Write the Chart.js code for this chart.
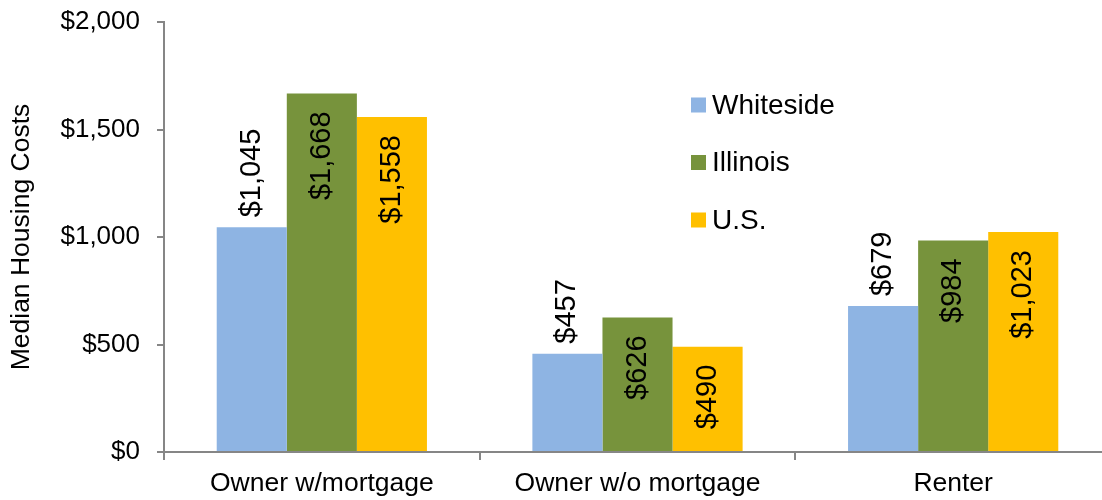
<!DOCTYPE html>
<html>
<head>
<meta charset="utf-8">
<script src="https://cdn.jsdelivr.net/npm/chart.js@4/dist/chart.umd.min.js"></script>
<style>
  html, body { margin: 0; padding: 0; background: #fff; overflow: hidden; }
  #wrap { width: 1112px; height: 500px; }
</style>
</head>
<body>
<div id="wrap"><canvas id="chart"></canvas></div>
<script>
const categories = ["Owner w/mortgage", "Owner w/o mortgage", "Renter"];
const seriesNames = ["Whiteside", "Illinois", "U.S."];
const whiteside = [1045, 457, 679];
const illinois = [1668, 626, 984];
const usa = [1558, 490, 1023];
const seriesColors = ["#8EB4E3", "#77933C", "#FFC000"];
const yMax = 2000;
const yStep = 500;

const font = "'Liberation Sans', Arial, sans-serif";
const axisColor = "#868686";

function money(v) {
  return "$" + v.toLocaleString("en-US");
}

// value labels, turned on their side like in the excel chart
const barLabels = {
  id: "barLabels",
  afterDatasetsDraw(chart) {
    const ctx = chart.ctx;
    ctx.save();
    ctx.font = "29px " + font;
    ctx.fillStyle = "#000";
    ctx.textBaseline = "middle";
    chart.data.datasets.forEach((ds, i) => {
      const meta = chart.getDatasetMeta(i);
      meta.data.forEach((bar, j) => {
        ctx.save();
        ctx.translate(bar.x, bar.y);
        ctx.rotate(-Math.PI / 2);
        if (i === 0) {
          ctx.textAlign = "left";
          ctx.fillText(money(ds.data[j]), 10, 0);
        } else {
          ctx.textAlign = "right";
          ctx.fillText(money(ds.data[j]), -18, 0);
        }
        ctx.restore();
      });
    });
    ctx.restore();
  }
};

// legend sits inside the plot, stacked
const insideLegend = {
  id: "insideLegend",
  afterDraw(chart) {
    const ctx = chart.ctx;
    const left = 691;
    const top = 105;
    const rowGap = 57.5;
    ctx.save();
    ctx.font = "28px " + font;
    ctx.textBaseline = "middle";
    ctx.textAlign = "left";
    chart.data.datasets.forEach((ds, i) => {
      const y = top + i * rowGap;
      ctx.fillStyle = ds.backgroundColor;
      ctx.fillRect(left, y - 7.5, 15, 15);
      ctx.fillStyle = "#000";
      ctx.fillText(ds.label, left + 21, y + 1);
    });
    ctx.restore();
  }
};

const data = {
  labels: categories,
  datasets: [
    {label: seriesNames[0], data: whiteside, backgroundColor: seriesColors[0]},
    {label: seriesNames[1], data: illinois, backgroundColor: seriesColors[1]},
    {label: seriesNames[2], data: usa, backgroundColor: seriesColors[2]},
  ],
};

new Chart(document.getElementById("chart"), {
  type: "bar",
  data: data,
  plugins: [barLabels, insideLegend],
  options: {
    responsive: true,
    maintainAspectRatio: false,
    animation: false,
    devicePixelRatio: 1,
    layout: {padding: {top: 22, left: 6, right: 1, bottom: 0}},
    datasets: {
      bar: {categoryPercentage: 0.666, barPercentage: 1, borderWidth: 0},
    },
    plugins: {
      legend: {display: false},
      tooltip: {enabled: false},
    },
    scales: {
      x: {
        grid: {
          display: true,
          drawOnChartArea: false,
          offset: true,
          tickLength: 8,
          color: axisColor,
          lineWidth: 2,
        },
        border: {display: true, color: axisColor, width: 2},
        ticks: {
          color: "#000",
          padding: 8,
          maxRotation: 0,
          font: {family: font, size: 26.5},
        },
        afterFit(scale) {
          scale.height = 48;
        },
      },
      y: {
        min: 0,
        max: yMax,
        grid: {
          display: true,
          drawOnChartArea: false,
          tickLength: 7,
          color: axisColor,
          lineWidth: 2,
        },
        border: {display: true, color: axisColor, width: 2},
        ticks: {
          stepSize: yStep,
          color: "#000",
          padding: 17,
          font: {family: font, size: 26},
          callback: (v) => money(v),
        },
        title: {
          display: true,
          text: "Median Housing Costs",
          color: "#000",
          padding: {top: 0, bottom: 0},
          font: {family: font, size: 26.5},
        },
        afterFit(scale) {
          scale.width = 158;
          // let the layout padding decide where the plot starts
          scale.paddingTop = 0;
          scale.paddingBottom = 0;
        },
      },
    },
  },
});
</script>
</body>
</html>
